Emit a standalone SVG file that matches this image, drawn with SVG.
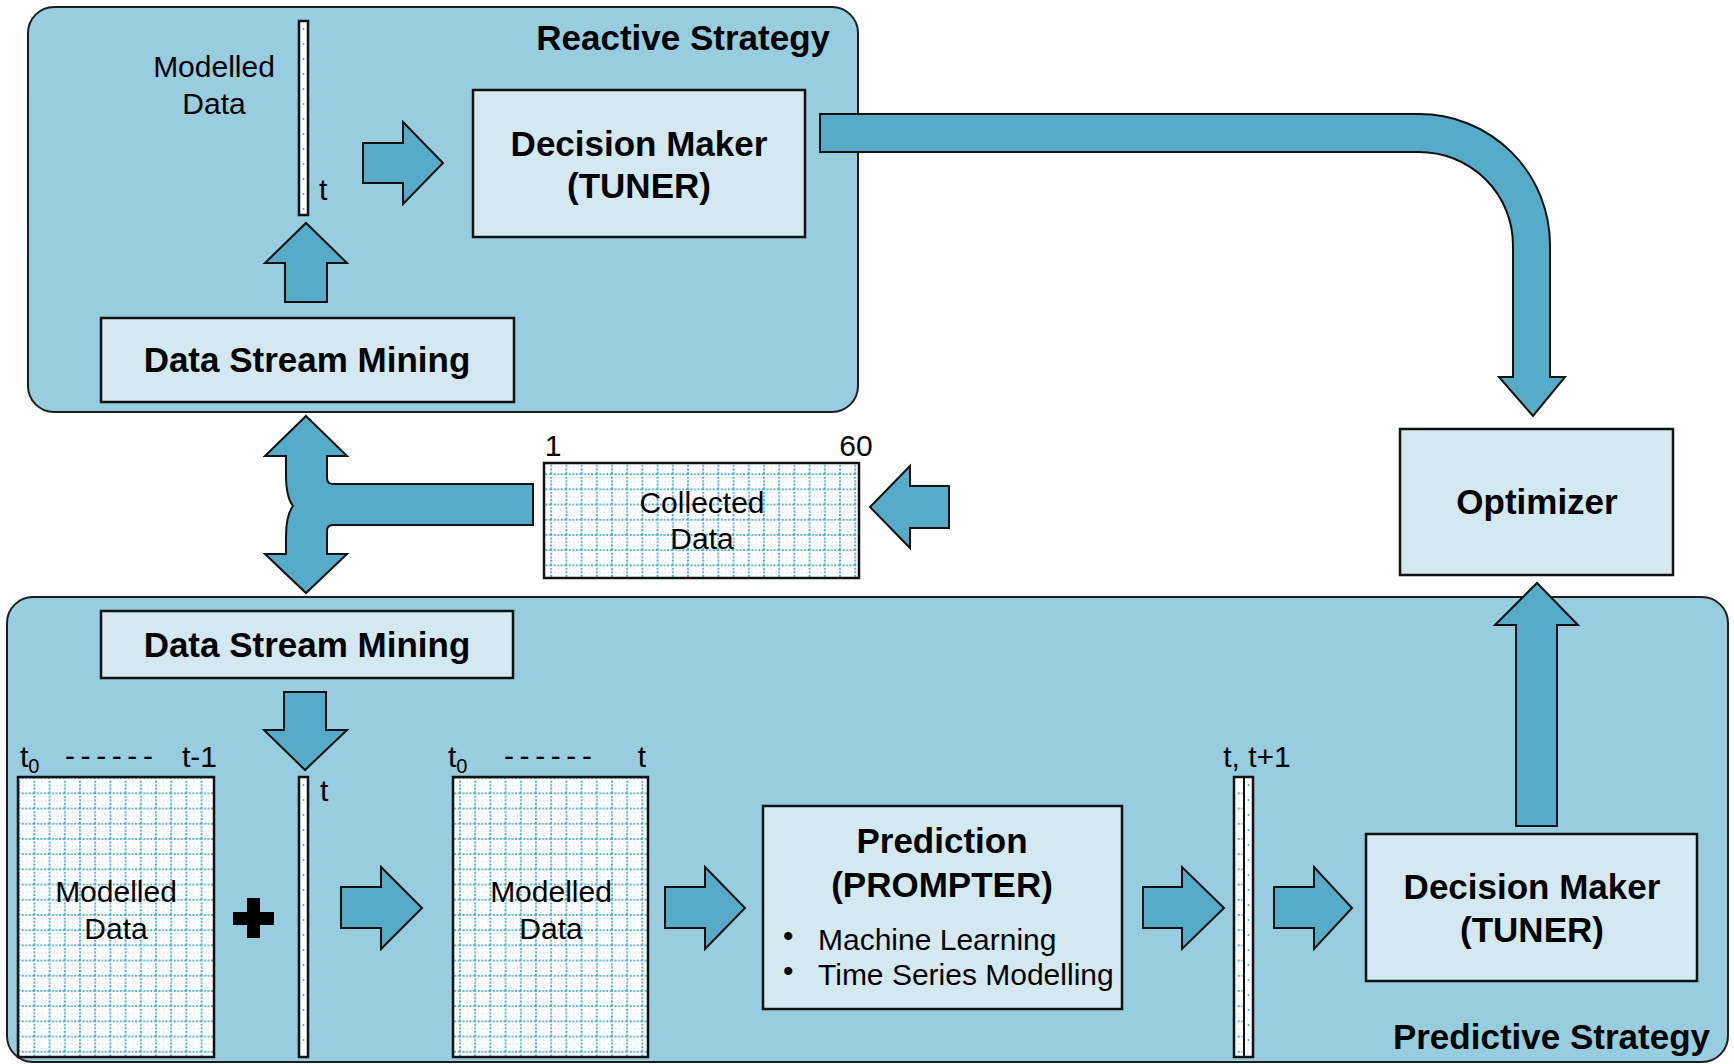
<svg xmlns="http://www.w3.org/2000/svg" width="1734" height="1064" viewBox="0 0 1734 1064">
<defs>
<pattern id="grid" x="3" y="2" width="15.2" height="15.2" patternUnits="userSpaceOnUse">
<rect width="15.2" height="15.2" fill="#ffffff"/>
<path d="M1,0 V15.2 M0,1 H15.2" stroke="#55aecd" stroke-width="2" stroke-dasharray="2 1.5" fill="none"/>
<path d="M8.6,0 V15.2 M0,8.6 H15.2" stroke="#a8d6e6" stroke-width="1" stroke-dasharray="1 3" fill="none"/>
</pattern>
<style>
.cont{fill:#97cddf;stroke:#1e1e1e;stroke-width:2}
.box{fill:#d4e9ef;stroke:#111;stroke-width:2.5}
.grid{fill:url(#grid);stroke:#111;stroke-width:2.5}
.bar{fill:#ffffff;stroke:#111;stroke-width:2.5}
.arr{fill:#56acc8;stroke:#111;stroke-width:2;stroke-linejoin:miter}
.b{font-family:"Liberation Sans",Arial,sans-serif;font-weight:bold;font-size:35px;fill:#000}
.r{font-family:"Liberation Sans",Arial,sans-serif;font-size:30px;fill:#000}
.m{text-anchor:middle}
.e{text-anchor:end}
.dots{stroke:#55aecd;stroke-width:1.5;stroke-dasharray:2 13;fill:none}
</style>
</defs>

<g id="reactive-container">
<rect class="cont" x="28" y="7" width="830" height="405" rx="26"/>
<text class="b e" x="830" y="50">Reactive Strategy</text>
</g>

<g id="predictive-container">
<rect class="cont" x="7" y="597" width="1721" height="465" rx="26"/>
<text class="b e" x="1710" y="1049">Predictive Strategy</text>
</g>

<g id="top-modelled-data">
<rect class="bar" x="299" y="21" width="9" height="194"/>
<line class="dots" x1="303.5" y1="28" x2="303.5" y2="212"/>
<text class="r m" x="214" y="77">Modelled</text>
<text class="r m" x="214" y="114">Data</text>
<text class="r" x="319" y="200">t</text>
</g>

<g id="top-decision-maker">
<rect class="box" x="473" y="90" width="332" height="147"/>
<text class="b m" x="639" y="156">Decision Maker</text>
<text class="b m" x="639" y="198">(TUNER)</text>
</g>

<g id="top-data-stream-mining">
<rect class="box" x="101" y="318" width="413" height="84"/>
<text class="b m" x="307" y="372">Data Stream Mining</text>
</g>

<g id="collected-data">
<rect class="grid" x="544" y="463" width="315" height="115"/>
<text class="r m" x="702" y="513">Collected</text>
<text class="r m" x="702" y="549">Data</text>
<text class="r m" x="553" y="456">1</text>
<text class="r m" x="856" y="456">60</text>
</g>

<g id="optimizer">
<rect class="box" x="1400" y="429" width="273" height="146"/>
<text class="b m" x="1537" y="514">Optimizer</text>
</g>

<g id="bottom-data-stream-mining">
<rect class="box" x="101" y="611" width="412" height="67"/>
<text class="b m" x="307" y="657">Data Stream Mining</text>
</g>

<g id="modelled-data-1">
<rect class="grid" x="18" y="777" width="196" height="280"/>
<text class="r" x="20" y="767">t<tspan font-size="20" dy="6">0</tspan></text>
<text class="r" x="65" y="766" letter-spacing="5.6">------</text>
<text class="r e" x="217" y="767">t-1</text>
<text class="r m" x="116" y="902">Modelled</text>
<text class="r m" x="116" y="939">Data</text>
</g>

<g id="plus">
<rect x="233" y="912" width="41" height="13" fill="#000"/>
<rect x="247" y="898" width="13" height="40" fill="#000"/>
</g>

<g id="bottom-bar-t">
<rect class="bar" x="299" y="777" width="9" height="280"/>
<line class="dots" x1="303.5" y1="784" x2="303.5" y2="1054"/>
<text class="r" x="320" y="801">t</text>
</g>

<g id="modelled-data-2">
<rect class="grid" x="453" y="777" width="195" height="280"/>
<text class="r" x="448" y="767">t<tspan font-size="20" dy="6">0</tspan></text>
<text class="r" x="504" y="766" letter-spacing="5.6">------</text>
<text class="r m" x="642" y="767">t</text>
<text class="r m" x="551" y="902">Modelled</text>
<text class="r m" x="551" y="939">Data</text>
</g>

<g id="prediction">
<rect class="box" x="763" y="806" width="359" height="203"/>
<text class="b m" x="942" y="853">Prediction</text>
<text class="b m" x="942" y="897">(PROMPTER)</text>
<text class="r" x="783" y="946" font-size="14">•</text>
<text class="r" x="818" y="950">Machine Learning</text>
<text class="r" x="783" y="981" font-size="14">•</text>
<text class="r" x="818" y="985">Time Series Modelling</text>
</g>

<g id="prediction-bar">
<rect class="bar" x="1234" y="777" width="19" height="280"/>
<line x1="1244" y1="777" x2="1244" y2="1057" stroke="#111" stroke-width="2"/>
<rect x="1236.5" y="779" width="6" height="276" fill="url(#grid)"/>
<line class="dots" x1="1248.5" y1="784" x2="1248.5" y2="1054"/>
<text class="r m" x="1257" y="767">t, t+1</text>
</g>

<g id="bottom-decision-maker">
<rect class="box" x="1366" y="834" width="331" height="147"/>
<text class="b m" x="1532" y="899">Decision Maker</text>
<text class="b m" x="1532" y="942">(TUNER)</text>
</g>

<g id="connectors">
<path class="arr" d="M363,143 H403 V122 L443,163 L403,204 V183 H363 Z"/>
<path class="arr" d="M285,302 V263 H265 L306,223 L347,263 H327 V302 Z"/>
<path class="arr" d="M820,114 H1419 A131,131 0 0 1 1550,245 V377 H1565 L1533,416 L1499,377 H1513 V245 A94,93 0 0 0 1419,152 H820 Z"/>
<path class="arr" d="M306,416 L347,456 H327 V478 Q327,484 333,484 H533 V525 H333 Q327,525 327,531 V554 H347 L306,593 L265,554 H286 V537 Q286,515 293,506 Q286,497 286,475 V456 H265 Z"/>
<path class="arr" d="M949,486 H910 V466 L870,507 L910,548 V528 H949 Z"/>
<path class="arr" d="M284,692 H326 V730 H347 L305,770 L264,730 H284 Z"/>
<path class="arr" d="M341,887 H381 V867 L422,908 L381,949 V928 H341 Z"/>
<path class="arr" d="M665,887 H705 V867 L745,908 L705,949 V928 H665 Z"/>
<path class="arr" d="M1143,887 H1182 V867 L1224,908 L1182,949 V928 H1143 Z"/>
<path class="arr" d="M1274,887 H1314 V867 L1352,908 L1314,949 V928 H1274 Z"/>
<path class="arr" d="M1516,826 V625 H1495 L1537,583 L1578,625 H1557 V826 Z"/>
</g>
</svg>
